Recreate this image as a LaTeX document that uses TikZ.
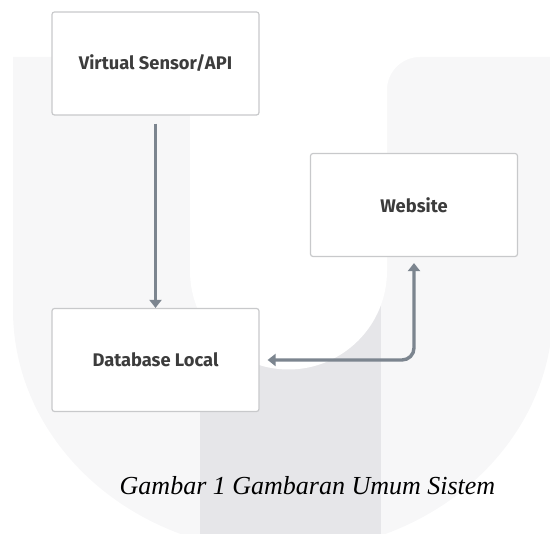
\documentclass[tikz,border=0pt]{standalone}
\usepackage{fontspec}
\setmainfont{Liberation Serif}
\newfontfamily\boxfont{Fira Sans}
\usetikzlibrary{arrows.meta}
\definecolor{wmlight}{RGB}{247,247,248}
\definecolor{wmdark}{RGB}{230,230,233}
\definecolor{boxline}{RGB}{200,201,203}
\definecolor{linkgray}{RGB}{124,133,143}
\definecolor{labelgray}{RGB}{60,60,60}

\begin{document}
\begin{tikzpicture}
[x=1pt,y=1pt,
 box/.style={draw=boxline,line width=1.2pt,fill=white,rounded corners=2.5pt,minimum width=207pt,minimum height=103pt,inner sep=0pt,font=\boxfont\bfseries\fontsize{18.3}{22}\selectfont,text=labelgray}]
\useasboundingbox (0,0) rectangle (550,534);
\begin{scope}
\clip (0,0) rectangle (550,534);
\fill[wmlight] (13,477) -- (13,224) arc[start angle=180,end angle=360,x radius=270,y radius=242] -- (553,477) -- cycle;
\fill[wmdark] (200,0) rectangle (381,300);
\fill[white] (190,534) -- (190,263) arc[start angle=180,end angle=360,radius=98.5] -- (387,444) arc[start angle=180,end angle=90,radius=33] -- (420,477) -- (420,534) -- cycle;
\end{scope}
\node[box] (vs) at (155.5,470.5) {Virtual Sensor/API};
\node[box] (web) at (414,329) {Website};
\node[box] (db) at (155.5,174) {Database Local};
\node[anchor=base,font=\itshape\fontsize{26}{30}\selectfont] (cap) at (307.5,39) {Gambar 1 Gambaran Umum Sistem};
\tikzset{link/.style={draw=linkgray,line width=3.4pt,-{Triangle[width=12pt,length=8pt]}}}
\draw[link,shorten <=8pt] (vs.south) -- (db.north);
\draw[link,{Triangle[width=12pt,length=8pt]}-{Triangle[width=12pt,length=8pt]},shorten <=8pt,shorten >=6pt,rounded corners=12pt] (db.east) -| (web.south);
\end{tikzpicture}
\end{document}
